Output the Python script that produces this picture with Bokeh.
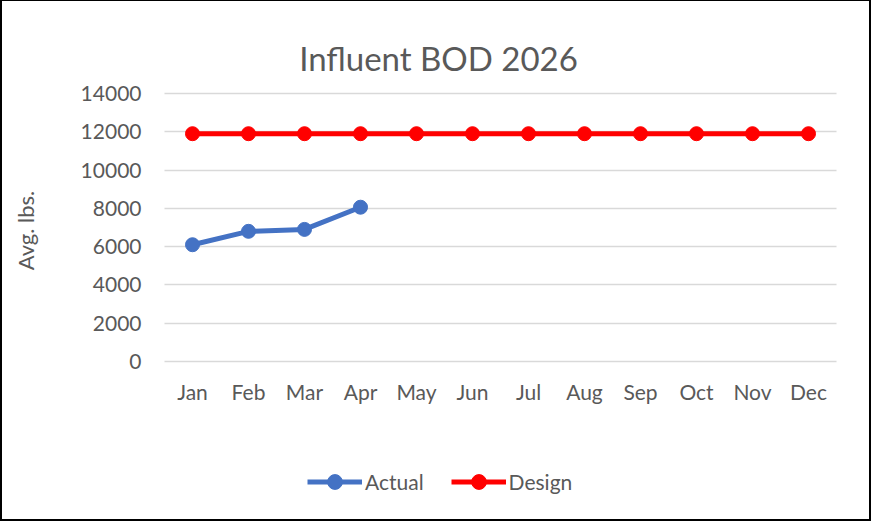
import math
from bokeh.plotting import figure
from bokeh.models import Range1d, Legend, LegendItem, FixedTicker, Label
from bokeh.embed import file_html
from bokeh.resources import INLINE

months = ["Jan", "Feb", "Mar", "Apr", "May", "Jun", "Jul", "Aug", "Sep", "Oct", "Nov", "Dec"]
actual = [6100, 6800, 6900, 8060]
design = [11900, 11900, 11900, 11900, 11900, 11900, 11900, 11900, 11900, 11900, 11900, 11900]
y_ticks = [0, 2000, 4000, 6000, 8000, 10000, 12000, 14000]
title_text = "Influent BOD 2026"
y_label = "Avg. lbs."

FONT = "Lato"
TXT = "#595959"
BLUE = "#4472C4"
RED = "#FF0000"
GRID = "#D9D9D9"

# category positions on the x scale (one slot per month)
month_pos = list(range(len(months)))
actual_pos = month_pos[:len(actual)]
area_x0, area_x1 = month_pos[0] - 0.5, month_pos[-1] + 0.5

# layout in pixels: plot area x 164..836, y 93 (14000) .. 361 (0); frame = whole canvas
W, H = 871, 519
LEFT, SLOT = 164, 56
TOP, ZERO_Y = 93, 361
ppu = (ZERO_Y - TOP) / 14000
x_start = -(LEFT / SLOT) - 0.5
x_end = x_start + W / SLOT
y_end = 14000 + TOP / ppu
y_start = -(H - ZERO_Y) / ppu

p = figure(width=W, height=H, output_backend="svg", toolbar_location=None,
           x_range=Range1d(x_start, x_end), y_range=Range1d(y_start, y_end),
           min_border=0, min_border_left=0, min_border_right=0,
           min_border_top=0, min_border_bottom=0)
p.outline_line_color = None
p.background_fill_color = None
p.border_fill_color = None
p.styles = {"outline": "2px solid #000000", "outline-offset": "0px",
            "box-shadow": "inset 2px 1px 0 0 #000000, inset -2px 0 0 0 #000000"}

p.xgrid.grid_line_color = None
ygrid = p.ygrid[0]
ygrid.ticker = FixedTicker(ticks=y_ticks)
if "cross_bounds" in ygrid.properties():
    ygrid.grid_line_color = GRID
    ygrid.grid_line_width = 1.3
    ygrid.cross_bounds = (area_x0, area_x1)
else:
    ygrid.grid_line_color = None
    p.segment(x0=[area_x0] * len(y_ticks), x1=[area_x1] * len(y_ticks),
              y0=y_ticks, y1=y_ticks, line_color=GRID, line_width=1.3)

p.yaxis.ticker = FixedTicker(ticks=y_ticks)
p.xaxis.ticker = FixedTicker(ticks=month_pos)
p.xaxis.major_label_overrides = {i: m for i, m in zip(month_pos, months)}

for ax in (p.xaxis[0], p.yaxis[0]):
    ax.major_tick_in = 0
    ax.major_tick_out = 0
    ax.minor_tick_in = 0
    ax.minor_tick_out = 0
    ax.axis_line_color = None
    ax.major_label_text_font = FONT
    ax.major_label_text_font_size = "21px"
    ax.major_label_text_color = TXT

p.xaxis.fixed_location = 0
p.xaxis.major_label_standoff = 17
p.yaxis.fixed_location = area_x0
p.yaxis.major_label_standoff = 23

a_line = p.line(actual_pos, actual, line_color=BLUE, line_width=5)
a_pts = p.scatter(actual_pos, actual, size=14, fill_color=BLUE, line_color=BLUE)
d_line = p.line(month_pos, design, line_color=RED, line_width=5)
d_pts = p.scatter(month_pos, design, size=14, fill_color=RED, line_color=RED)

legend = Legend(items=[LegendItem(label="Actual", renderers=[a_line, a_pts]),
                       LegendItem(label="Design", renderers=[d_line, d_pts])],
                orientation="horizontal", location=(307, H - 500),
                glyph_width=55, glyph_height=37, label_standoff=3, spacing=27,
                padding=0, margin=0, border_line_color=None, background_fill_alpha=0,
                label_text_font=FONT, label_text_font_size="21px", label_text_color=TXT)
p.add_layout(legend, "center")

title = Label(x=438, y=H - 57, x_units="screen", y_units="screen", text=title_text,
              text_align="center", text_baseline="alphabetic", text_font=FONT,
              text_font_size="33px", text_color=TXT)
p.add_layout(title)

ylab = Label(x=25, y=H - 230, x_units="screen", y_units="screen", text=y_label,
             angle=math.pi / 2, text_align="center", text_baseline="middle",
             text_font=FONT, text_font_size="22px", text_color=TXT)
p.add_layout(ylab)

open("out.html", "w").write(file_html(p, INLINE))
